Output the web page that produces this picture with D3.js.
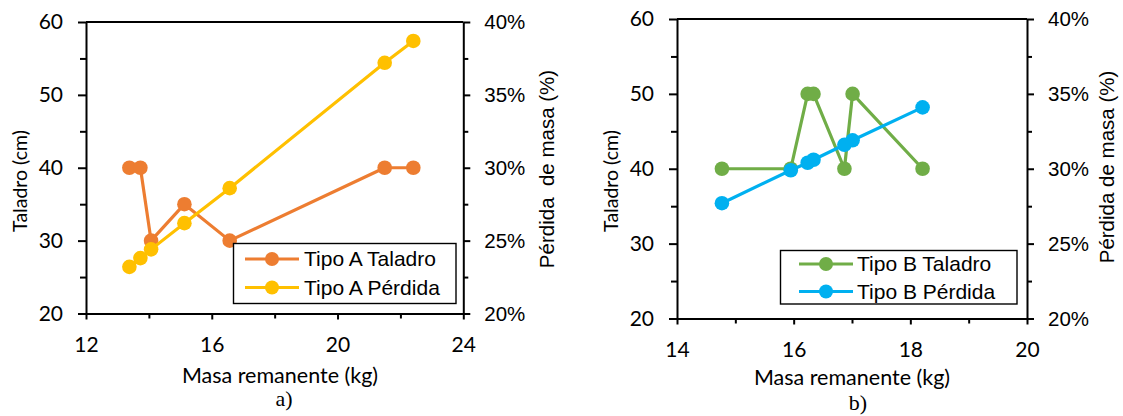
<!DOCTYPE html>
<html><head><meta charset="utf-8">
<script src="https://cdn.jsdelivr.net/npm/d3@7"></script>
<style>
html,body{margin:0;padding:0;background:#fff;}
svg{display:block;}
</style></head>
<body>
<svg id="c" width="1123" height="416"></svg>
<script>
// ---- Data ----
const massA = [13.38, 13.73, 14.07, 15.13, 16.57, 21.50, 22.41];
const taladroA = [40, 40, 30, 35, 30, 40, 40];
const perdidaA = [0.232, 0.238, 0.244, 0.262, 0.286, 0.372, 0.387];

const massB = [14.77, 15.95, 16.24, 16.34, 16.87, 17.01, 18.21];
const taladroB = [40, 40, 50, 50, 40, 50, 40];
const perdidaB = [0.277, 0.299, 0.304, 0.306, 0.316, 0.319, 0.341];

const xTicksA = [12, 16, 20, 24];
const xMinorA = [14, 18, 22];
const xTicksB = [14, 16, 18, 20];
const xMinorB = [15, 17, 19];
const yLeftTicks = [20, 30, 40, 50, 60];
const yLeftMinor = [25, 35, 45, 55];
const yRightTicks = [0.20, 0.25, 0.30, 0.35, 0.40];
const yRightMinor = [0.225, 0.275, 0.325, 0.375];

const seriesNamesA = ["Tipo A Taladro", "Tipo A Pérdida"];
const seriesNamesB = ["Tipo B Taladro", "Tipo B Pérdida"];
const colorsA = ["#ED7D31", "#FFC000"];
const colorsB = ["#70AD47", "#00B0F0"];

const svg = d3.select("#c");
const CAL = "Lato, 'Open Sans', sans-serif";
const ARI = "'Liberation Sans', Arial, sans-serif";

function drawChart(cfg) {
  const g = svg.append("g");
  const x = d3.scaleLinear().domain(cfg.xDomain).range([cfg.left, cfg.right]);
  const yL = d3.scaleLinear().domain([20, 60]).range([cfg.bottom, cfg.top]);
  const yR = d3.scaleLinear().domain([0.20, 0.40]).range([cfg.bottom, cfg.top]);

  // minor ticks
  g.append("g").attr("transform", `translate(${cfg.left},0)`)
    .call(d3.axisLeft(yL).tickValues(yLeftMinor).tickSize(6).tickFormat(""))
    .call(s => s.select(".domain").remove());
  g.append("g").attr("transform", `translate(${cfg.right},0)`)
    .call(d3.axisRight(yR).tickValues(yRightMinor).tickSize(5).tickFormat(""))
    .call(s => s.select(".domain").remove());
  g.append("g").attr("transform", `translate(0,${cfg.bottom})`)
    .call(d3.axisBottom(x).tickValues(cfg.xMinor).tickSize(5).tickFormat(""))
    .call(s => s.select(".domain").remove());

  // major axes
  const ax = g.append("g").attr("transform", `translate(${cfg.left},0)`)
    .call(d3.axisLeft(yL).tickValues(yLeftTicks).tickSize(8).tickSizeOuter(0).tickPadding(cfg.yLPad).tickFormat(d3.format("d")));
  ax.selectAll("text").attr("font-family", CAL).attr("font-size", 21).attr("fill", "#000");
  const axr = g.append("g").attr("transform", `translate(${cfg.right},0)`)
    .call(d3.axisRight(yR).tickValues(yRightTicks).tickSize(7).tickSizeOuter(0).tickPadding(cfg.yRPad).tickFormat(d3.format(".0%")));
  axr.selectAll("text").attr("font-family", ARI).attr("font-size", 20.5).attr("fill", "#000");
  const axb = g.append("g").attr("transform", `translate(0,${cfg.bottom})`)
    .call(d3.axisBottom(x).tickValues(cfg.xTicks).tickSize(6).tickSizeOuter(0).tickPadding(cfg.xPad).tickFormat(d3.format("d")));
  axb.selectAll("text").attr("font-family", CAL).attr("font-size", 21).attr("fill", "#000");
  g.selectAll(".domain, .tick line").attr("stroke", "#000").attr("stroke-width", 2);

  // top border
  g.append("line").attr("x1", cfg.left).attr("x2", cfg.right)
    .attr("y1", cfg.top).attr("y2", cfg.top).attr("stroke", "#000").attr("stroke-width", 2);

  // series
  const sets = [
    {ys: cfg.taladro, sc: yL, color: cfg.colors[0]},
    {ys: cfg.perdida, sc: yR, color: cfg.colors[1]}
  ];
  const plot = g.append("g");
  sets.forEach(s => {
    const pts = cfg.mass.map((m, i) => [x(m), s.sc(s.ys[i])]);
    const line = d3.line();
    plot.append("path").attr("d", line(pts)).attr("fill", "none")
      .attr("stroke", s.color).attr("stroke-width", 3.2).attr("stroke-linejoin", "round");
    plot.selectAll(null).data(pts).enter().append("circle")
      .attr("cx", d => d[0]).attr("cy", d => d[1]).attr("r", 7.3).attr("fill", s.color);
  });

  // legend
  const L = cfg.legend;
  const lg = g.append("g");
  lg.append("rect").attr("x", L.x).attr("y", L.y).attr("width", L.w).attr("height", L.h)
    .attr("fill", "#fff").attr("stroke", "#000").attr("stroke-width", 1.4);
  cfg.names.forEach((n, i) => {
    const yy = L.rows[i];
    lg.append("line").attr("x1", L.lx1).attr("x2", L.lx2).attr("y1", yy).attr("y2", yy)
      .attr("stroke", cfg.colors[i]).attr("stroke-width", 3.2);
    lg.append("circle").attr("cx", (L.lx1 + L.lx2) / 2).attr("cy", yy).attr("r", 7).attr("fill", cfg.colors[i]);
    lg.append("text").attr("x", L.tx).attr("y", yy).attr("dy", "0.35em")
      .attr("font-family", ARI).attr("font-size", 21).attr("fill", "#000").text(n);
  });

  // titles
  g.append("text").attr("transform", `translate(${cfg.ltx},${cfg.lty}) rotate(-90)`)
    .attr("text-anchor", "middle").attr("dy", "0.35em")
    .attr("font-family", CAL).attr("font-size", 19.5).attr("fill", "#000").text("Taladro (cm)");
  g.append("text").attr("transform", `translate(${cfg.rtx},${cfg.rty}) rotate(-90)`)
    .attr("text-anchor", "middle").attr("dy", "0.35em").style("white-space", "pre")
    .attr("font-family", ARI).attr("font-size", 20.5).attr("fill", "#000").text(cfg.rTitle);
  g.append("text").attr("x", cfg.xtx).attr("y", cfg.xty).attr("dy", "0.35em")
    .attr("text-anchor", "middle").attr("font-family", CAL).attr("font-size", 21.5)
    .attr("fill", "#000").text("Masa remanente (kg)");
  g.append("text").attr("x", cfg.subx).attr("y", cfg.suby)
    .attr("text-anchor", "middle").attr("font-family", "'Liberation Serif', 'Times New Roman', serif")
    .attr("font-size", 22).attr("fill", "#000").text(cfg.sub);
}

drawChart({
  left: 86, right: 463.3, top: 22, bottom: 313.5,
  xDomain: [12, 24], xTicks: xTicksA, xMinor: xMinorA,
  yLPad: 15, yRPad: 14, xPad: 18,
  mass: massA, taladro: taladroA, perdida: perdidaA,
  colors: colorsA, names: seriesNamesA,
  legend: {x: 233.5, y: 243.5, w: 222.5, h: 60, rows: [259, 287.5], lx1: 245, lx2: 299, tx: 304},
  ltx: 20, lty: 181, rtx: 547, rty: 169, rTitle: "Pérdida\u00a0 de masa (%)",
  xtx: 280, xty: 375, subx: 284, suby: 406, sub: "a)"
});

drawChart({
  left: 677, right: 1027, top: 19, bottom: 318.5,
  xDomain: [14, 20], xTicks: xTicksB, xMinor: xMinorB,
  yLPad: 15, yRPad: 14, xPad: 18,
  mass: massB, taladro: taladroB, perdida: perdidaB,
  colors: colorsB, names: seriesNamesB,
  legend: {x: 780.5, y: 250.5, w: 236.5, h: 53.5, rows: [264, 291.5], lx1: 799, lx2: 853, tx: 857},
  ltx: 611, lty: 181, rtx: 1107, rty: 167, rTitle: "Pérdida de masa (%)",
  xtx: 852, xty: 377, subx: 858, suby: 410, sub: "b)"
});
</script>
</body></html>
